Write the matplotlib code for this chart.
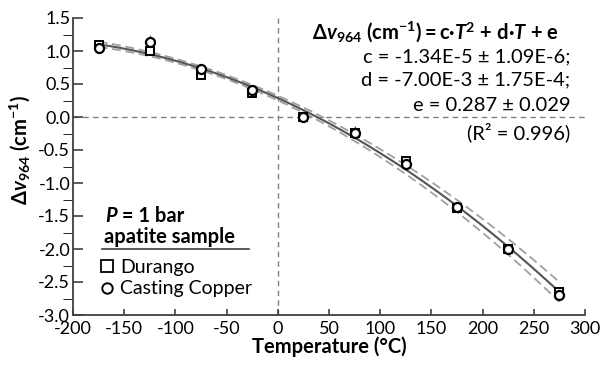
import numpy as np
import matplotlib
matplotlib.use("Agg")
import matplotlib.pyplot as plt
from matplotlib.lines import Line2D

plt.rcParams['font.family'] = ['Lato', 'DejaVu Sans']
plt.rcParams['mathtext.fontset'] = 'custom'
plt.rcParams['mathtext.rm'] = 'Lato'
plt.rcParams['mathtext.it'] = 'Lato:italic'
plt.rcParams['mathtext.bf'] = 'Lato:bold'
plt.rcParams['mathtext.bfit'] = 'Lato:italic:bold'
plt.rcParams['axes.unicode_minus'] = False

# Temperatures (°C)
temperature = [-175, -125, -75, -25, 25, 75, 125, 175, 225, 275]
# shift of the 964 band (cm-1)
durango = [1.09, 1.00, 0.64, 0.37, 0.00, -0.24, -0.67, -1.38, -2.00, -2.65]
casting_copper = [1.05, 1.13, 0.72, 0.41, 0.00, -0.24, -0.71, -1.37, -2.00, -2.70]
copper_err_up = [0.0, 0.12, 0.0, 0.0, 0.0, 0.11, 0.0, 0.0, 0.0, 0.0]

# quadratic fit  dv = c*T^2 + d*T + e
fit_c, fit_d, fit_e = -1.34e-5, -7.00e-3, 0.287
# confidence band half width, grows away from band_center
band_min, band_growth, band_center = 0.03, 9.8e-7, -75

fig = plt.figure(figsize=(6.03, 3.68), dpi=100)
ax = fig.add_axes([73/603, 1-315/368, 512/603, 297/368])

# reference lines
ax.axhline(0, color="#808080", ls=(0, (4, 3)), lw=1, zorder=1)
ax.axvline(0, color="#808080", ls=(0, (4, 3)), lw=1, zorder=1)

# fit and band
t_fit = np.linspace(min(temperature), max(temperature), 200)
y_fit = fit_c*t_fit**2 + fit_d*t_fit + fit_e
half = band_min + band_growth*(t_fit - band_center)**2
ax.plot(t_fit, y_fit + half, color="#a0a0a0", ls=(0, (5, 2.5)), lw=1.3, zorder=2)
ax.plot(t_fit, y_fit - half, color="#a0a0a0", ls=(0, (5, 2.5)), lw=1.3, zorder=2)
ax.plot(t_fit, y_fit, color="#555555", lw=1.5, zorder=3)

# data
ax.errorbar(temperature, casting_copper, yerr=[np.zeros(len(temperature)), copper_err_up],
            fmt="none", ecolor="#666666", elinewidth=1, capsize=0, zorder=4)
ax.plot(temperature, durango, ls="none", marker="s", ms=6, mfc="white", mec="black", mew=1.4, zorder=5)
ax.plot(temperature, casting_copper, ls="none", marker="o", ms=6.5, mfc="white", mec="black", mew=1.6, zorder=6)

ax.set_xlim(-200, 300)
ax.set_ylim(-3.0, 1.5)
ax.set_xticks(np.arange(-200, 301, 50))
ax.set_yticks(np.arange(-3.0, 1.51, 0.5))
ax.set_yticks(np.arange(-3.0, 1.51, 0.25), minor=True)
ax.set_yticklabels(["{:.1f}".format(v) for v in np.arange(-3.0, 1.51, 0.5)])
for s in ["top", "right"]:
    ax.spines[s].set_visible(False)
for s in ["left", "bottom"]:
    ax.spines[s].set_color("#404040")
    ax.spines[s].set_linewidth(1.3)
ax.tick_params(axis="both", direction="in", colors="#404040", labelcolor="black", labelsize=13, width=1.2)
ax.tick_params(axis="y", which="both", length=7, pad=2)
ax.tick_params(axis="x", length=4, pad=4)

ax.set_xlabel("Temperature (°C)", fontsize=14.5, fontweight="bold", labelpad=0)
ax.set_ylabel(r"$\mathbf{\Delta}\mathbfit{v}_{\mathbf{964}}\ \mathbf{(cm^{-1})}$", fontsize=14.5)
ax.yaxis.set_label_coords(-0.08, 0.556)

# fit annotation
eq = (r"$\mathbf{\Delta}\mathbfit{v}_{\mathbf{964}}\ \mathbf{(cm^{-1})=c·}\mathbfit{T}^{\mathbf{2}}"
      r"\mathbf{\ }\mathbf{+\ d·}\mathbfit{T}\mathbf{\ }\mathbf{+\ e}$")
ax.text(0.949, 0.954, eq, transform=ax.transAxes, ha="right", va="center", fontsize=14.5)
fit_lines = ["c = -1.34E-5 ± 1.09E-6;", "d = -7.00E-3 ± 1.75E-4;", "e = 0.287 ± 0.029", "(R² = 0.996)"]
for txt, yy in zip(fit_lines, [0.869, 0.791, 0.707, 0.617]):
    ax.text(0.971, yy, txt, transform=ax.transAxes, ha="right", va="center", fontsize=14.5)

# legend block
p_txt = ax.text(0.0625, 0.333, "P", transform=ax.transAxes, va="center", fontsize=14.5,
                fontweight="bold", fontstyle="italic")
ax.annotate(" = 1 bar", xy=(1, 0.5), xycoords=p_txt, va="center", fontsize=14.5, fontweight="bold")
ax.text(0.061, 0.262, "apatite sample", transform=ax.transAxes, va="center", fontsize=14.5, fontweight="bold")
ax.add_line(Line2D([0.056, 0.344], [0.221, 0.221], transform=ax.transAxes, color="#404040", lw=1.2))
handles = [Line2D([], [], ls="none", marker="s", ms=9, mfc="white", mec="black", mew=1.3),
           Line2D([], [], ls="none", marker="o", ms=7.5, mfc="white", mec="black", mew=1.4)]
ax.legend(handles, ["Durango", "Casting Copper"], loc="upper left", bbox_to_anchor=(0.047, 0.19),
          frameon=False, fontsize=14, handlelength=1.0, handletextpad=0.2, labelspacing=0.25,
          borderpad=0, borderaxespad=0)

fig.savefig("out.png", dpi=100)
